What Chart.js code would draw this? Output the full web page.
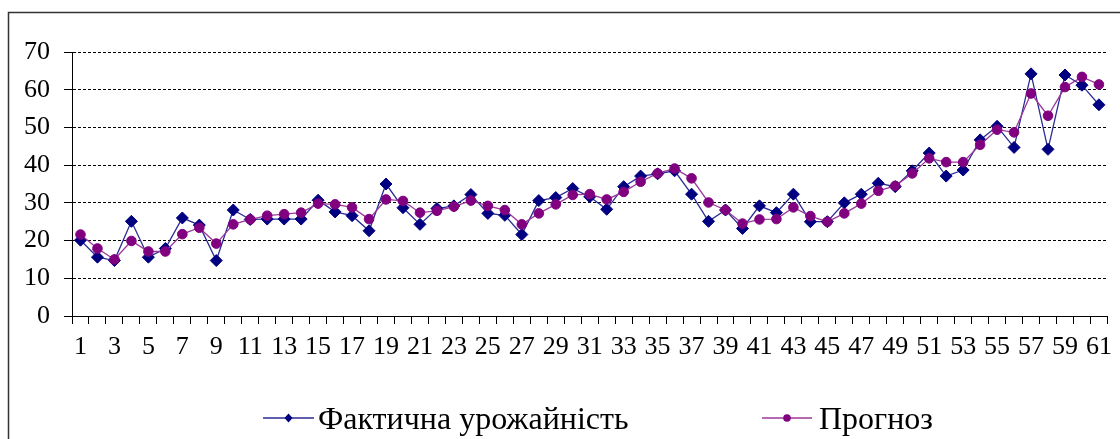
<!DOCTYPE html>
<html>
<head>
<meta charset="utf-8">
<script src="https://cdn.jsdelivr.net/npm/chart.js@4.4.0/dist/chart.umd.min.js"></script>
<style>
  html, body { margin: 0; padding: 0; background: #fff; }
  canvas { display: block; }
</style>
</head>
<body>
<canvas id="c" width="1120" height="439"></canvas>
<script>
const categories = ['1','2','3','4','5','6','7','8','9','10','11','12','13','14','15','16','17','18','19','20',
  '21','22','23','24','25','26','27','28','29','30','31','32','33','34','35','36','37','38','39','40',
  '41','42','43','44','45','46','47','48','49','50','51','52','53','54','55','56','57','58','59','60','61'];

const actualYield = [20.1,15.6,14.7,25.1,15.6,17.9,26.0,24.1,14.7,28.1,
  25.6,25.7,25.7,25.7,30.7,27.6,26.6,22.6,35.0,28.7,
  24.3,28.5,29.2,32.2,27.2,26.7,21.6,30.6,31.4,33.8,
  31.6,28.3,34.3,37.1,37.7,38.5,32.3,25.1,28.1,23.2,
  29.2,27.4,32.3,25.0,25.0,30.0,32.3,35.2,34.3,38.5,
  43.2,37.1,38.7,46.7,50.3,44.7,64.2,44.2,63.9,61.2,56.0];

const forecast = [21.6,17.9,15.0,19.9,17.1,17.1,21.7,23.4,19.2,24.3,
  25.6,26.6,27.0,27.4,29.8,29.6,28.8,25.7,30.9,30.5,
  27.4,27.9,29.0,30.6,29.2,28.1,24.3,27.2,29.6,32.1,
  32.3,30.9,32.9,35.6,37.8,39.1,36.5,30.1,28.1,24.5,
  25.6,25.7,28.8,26.5,25.0,27.2,29.8,33.2,34.5,37.8,
  41.8,40.8,40.8,45.4,49.4,48.7,59.0,53.1,60.7,63.4,61.4];

const seriesNames = ['Фактична урожайність', 'Прогноз'];
const yTicks = [0, 10, 20, 30, 40, 50, 60, 70];

const FONT = '"Liberation Serif", "Times New Roman", serif';

const frameAndLegend = {
  id: 'frameAndLegend',
  afterDraw(chart) {
    const ctx = chart.ctx;
    ctx.save();
    // outer frame
    ctx.strokeStyle = '#333';
    ctx.lineWidth = 1.5;
    ctx.strokeRect(8.5, 12.5, 1200, 600);
    // legend
    const items = [
      { ds: chart.data.datasets[0], x0: 263, x1: 314, tx: 318, shape: 'diamond' },
      { ds: chart.data.datasets[1], x0: 762, x1: 812, tx: 819, shape: 'circle' }
    ];
    const y = 418;
    items.forEach(it => {
      ctx.strokeStyle = it.ds.borderColor;
      ctx.lineWidth = 1.5;
      ctx.beginPath();
      ctx.moveTo(it.x0, y);
      ctx.lineTo(it.x1, y);
      ctx.stroke();
      const cx = (it.x0 + it.x1) / 2;
      ctx.fillStyle = it.ds.pointBackgroundColor;
      ctx.beginPath();
      if (it.shape === 'diamond') {
        ctx.moveTo(cx, y - 4.5); ctx.lineTo(cx + 4, y); ctx.lineTo(cx, y + 4.5); ctx.lineTo(cx - 4, y);
        ctx.closePath();
      } else {
        ctx.arc(cx, y, 3.8, 0, Math.PI * 2);
      }
      ctx.fill();
      ctx.fillStyle = '#000';
      ctx.font = '32px ' + FONT;
      ctx.textBaseline = 'alphabetic';
      ctx.textAlign = 'left';
      ctx.fillText(it.ds.label, it.tx, 429);
    });
    ctx.restore();
  }
};

new Chart(document.getElementById('c'), {
  type: 'line',
  data: {
    labels: categories,
    datasets: [
      {
        label: seriesNames[0],
        data: actualYield,
        borderColor: '#2b2b95',
        borderWidth: 1.3,
        pointStyle: 'rectRot',
        pointRadius: 6,
        pointBackgroundColor: '#000080',
        pointBorderColor: '#000080',
        pointBorderWidth: 1,
        tension: 0,
        order: 1
      },
      {
        label: seriesNames[1],
        data: forecast,
        borderColor: '#9b3a9b',
        borderWidth: 1.3,
        pointStyle: 'circle',
        pointRadius: 4.8,
        pointBackgroundColor: '#800080',
        pointBorderColor: '#800080',
        pointBorderWidth: 1,
        tension: 0,
        order: 0
      }
    ]
  },
  options: {
    responsive: false,
    animation: false,
    layout: { padding: { left: 0, right: 8, top: 52, bottom: 0 } },
    plugins: {
      legend: { display: false },
      tooltip: { enabled: false }
    },
    scales: {
      x: {
        type: 'category',
        offset: true,
        grid: {
          display: true,
          offset: true,
          drawOnChartArea: false,
          drawTicks: true,
          tickLength: 8,
          color: '#000',
          lineWidth: 1
        },
        border: { display: true, color: '#000', width: 1 },
        ticks: {
          autoSkip: false,
          maxRotation: 0,
          minRotation: 0,
          padding: 8,
          color: '#000',
          font: { family: FONT, size: 26 },
          callback: function (value, index) {
            return index % 2 === 0 ? this.getLabelForValue(value) : '';
          }
        },
        afterFit(scale) { scale.height = 123; }
      },
      y: {
        min: 0,
        max: 70,
        afterBuildTicks(scale) { scale.ticks = yTicks.map(v => ({ value: v })); },
        grid: {
          display: true,
          color: '#000',
          lineWidth: 1,
          drawTicks: true,
          tickLength: 8,
          tickColor: '#000',
          tickBorderDash: []
        },
        border: { display: true, color: '#000', width: 1, dash: [3, 2] },
        ticks: {
          padding: 14,
          color: '#000',
          font: { family: FONT, size: 26 }
        },
        afterFit(scale) { scale.width = 72; }
      }
    }
  },
  plugins: [frameAndLegend]
});
</script>
</body>
</html>
